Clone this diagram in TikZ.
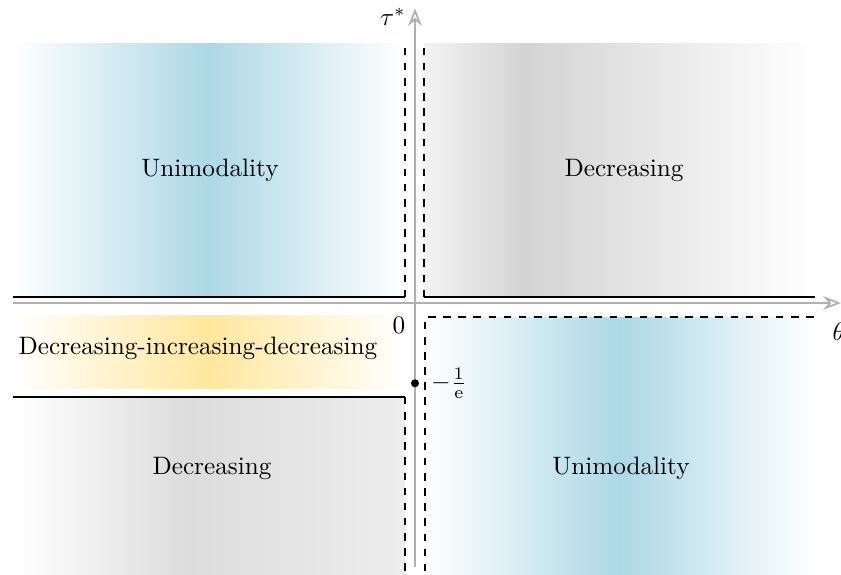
\documentclass[tikz,border=0pt]{standalone}
\usepackage{amsmath}
\usepackage{xcolor}
\usepackage{tikz}
\usetikzlibrary{calc,arrows.meta,positioning}

\definecolor{uniblue}{RGB}{173,216,230}
\definecolor{mixyellow}{RGB}{255,231,158}
\pgfdeclarehorizontalshading{decright}{100bp}{color(0bp)=(gray!10); color(25bp)=(gray!10); color(38bp)=(gray!34); color(75bp)=(white); color(100bp)=(white)}
\pgfdeclarehorizontalshading{decleft}{100bp}{color(0bp)=(white); color(25bp)=(white); color(47bp)=(gray!27); color(75bp)=(gray!14); color(100bp)=(gray!14)}

\begin{document}
\begin{tikzpicture}[
		axisline/.style={draw=gray!62, line width=1.1pt, -{Stealth[open,length=7pt,width=5.4pt,line width=0.7pt]}},
		border/.style={line width=0.75pt},
		bluefade/.style={left color=white, right color=white, middle color=uniblue}
	]
			\useasboundingbox (-5.788,-3.78) rectangle (5.941,4.226);
			\shade[bluefade] (-5.61,0.08) rectangle (-0.14,3.626);
			\shade[shading=decright] (0.125,0.08) rectangle (5.58,3.626);
			\shade[left color=white, right color=white, middle color=mixyellow] (-5.61,-0.18) rectangle (-0.14,-1.19);
			\shade[shading=decleft] (-5.61,-1.31) rectangle (-0.14,-3.78);
			\shade[bluefade] (0.14,-0.20) rectangle (5.56,-3.78);
			\draw[border] (-5.61,0.08) -- (-0.14,0.08);
			\draw[border,dashed] (-0.14,0.08) -- (-0.14,3.626);
			\draw[border] (0.125,0.08) -- (5.58,0.08);
			\draw[border,dashed] (0.125,0.08) -- (0.125,3.626);
			\draw[border,dashed] (5.56,-0.20) -- (0.14,-0.20) -- (0.14,-3.78);
			\draw[border] (-5.61,-1.31) -- (-0.14,-1.31);
			\draw[border,dashed] (-0.14,-1.31) -- (-0.14,-3.78);
			\coordinate(xstart) at (-5.61,0);
			\coordinate(xend) at (5.94,0);
			\coordinate(ystart) at (0,-3.68);
			\coordinate(yend) at (0,4.11);
			\draw[axisline] (xstart) -- (xend);
			\draw[axisline] (ystart) -- (yend);
			\node(theta) at (5.91,-0.40) {$\theta$};
			\node(tau) at (-0.307,3.99) {$\tau^*$};
			\node(origin) at (-0.223,-0.307) {$0$};
			\fill (0,-1.12) coordinate(dot) circle (1.6pt);
			\node[right=0.1cm of dot](minusinv) {$-\frac{1}{\mathrm{e}}$};
			\node(unimodtl) at (-2.859,1.855) {Unimodality};
			\node(dectr) at (2.915,1.855) {Decreasing};
			\node(didi) at (-3.027,-0.628) {Decreasing-increasing-decreasing};
			\node(decbl) at (-2.831,-2.301) {Decreasing};
			\node(unimodbr) at (2.873,-2.301) {Unimodality};
\end{tikzpicture}
\end{document}
